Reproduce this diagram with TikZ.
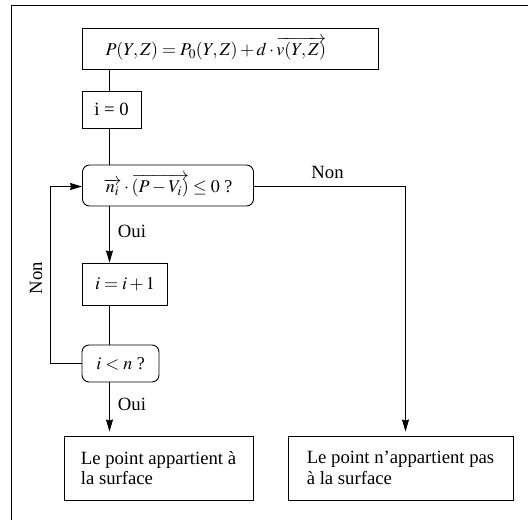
\documentclass[tikz,border=0pt]{standalone}
\usepackage{mathptmx}
\usepackage{fontspec}
\setmainfont{Liberation Serif}
\usetikzlibrary{arrows.meta}
\begin{document}
\begin{tikzpicture}[x=1pt,y=-1pt,
  every node/.style={font=\fontsize{18}{20.5}\selectfont},
  txt/.style={font=\fontsize{18.7}{20.5}\selectfont},
  box/.style 2 args={draw,line width=0.9pt,rectangle,minimum width=#1,minimum height=#2,inner sep=0pt},
  rbox/.style 2 args={box={#1}{#2},rounded corners=7pt},
  lbl/.style={inner sep=0pt,txt},
  conn/.style={line width=0.9pt},
  arr/.style={conn,-{Stealth[length=12pt,width=7pt,inset=1pt]}},
  frame/.style={line width=1pt}]
\useasboundingbox (0,0) rectangle (528,520);
% partial outer frame
\coordinate (ftl) at (11.5,5);
\coordinate (ftr) at (528,5);
\coordinate (fbl) at (11.5,520);
\draw[frame] (ftr) -- (ftl) -- (fbl);
% nodes
\node[box={296}{41},text width=250pt,inner xsep=23pt,align=left] (top) at (230.5,48.5)
  {$P(Y,Z)=P_0(Y,Z)+d\cdot\overrightarrow{v(Y,Z)}$};
\node[box={59}{37},txt] (i0) at (111.5,109.5) {i = 0};
\node[rbox={171}{41}] (dec1) at (168,185.5)
  {$\overrightarrow{n_i}\cdot\overrightarrow{(P-V_i)}\leq 0$ ?};
\node[box={85}{42}] (inc) at (125,284) {$i=i+1$};
\node[rbox={77}{37}] (dec2) at (120.5,363.5) {$i<n$ ?};
\node[box={189}{64},align=left,txt] (res1) at (158.5,468) {Le point appartient à\\la surface};
\node[box={225}{64},align=left,txt] (res2) at (400.5,468) {Le point n’appartient pas\\à la surface};
% labels
\node[lbl] (oui1) at (132,231) {Oui};
\node[lbl] (oui2) at (132,404) {Oui};
\node[lbl] (non1) at (327.5,172.5) {Non};
\node[lbl,rotate=90] (non2) at (36,278) {Non};
% helper coordinates
\coordinate (spine) at (109.5,0);
\coordinate (lp) at (50.5,0);
\coordinate (nc) at (405.5,186.5);
% connectors
\draw[conn] (top.south -| spine) -- (i0.north -| spine);
\draw[conn] (i0.south -| spine) -- (dec1.north -| spine);
\draw[arr] (dec1.south -| spine) -- (inc.north -| spine);
\draw[conn] (inc.south -| spine) -- (dec2.north -| spine);
\draw[arr,shorten >=4pt] (dec2.south -| spine) -- (res1.north -| spine);
\draw[arr] (dec2.west) -- (dec2.west -| lp) -- (lp |- nc) -- (dec1.west |- nc);
\draw[arr,shorten >=4pt] (dec1.east |- nc) -- (nc) -- (nc |- res2.north);
\end{tikzpicture}
\end{document}
